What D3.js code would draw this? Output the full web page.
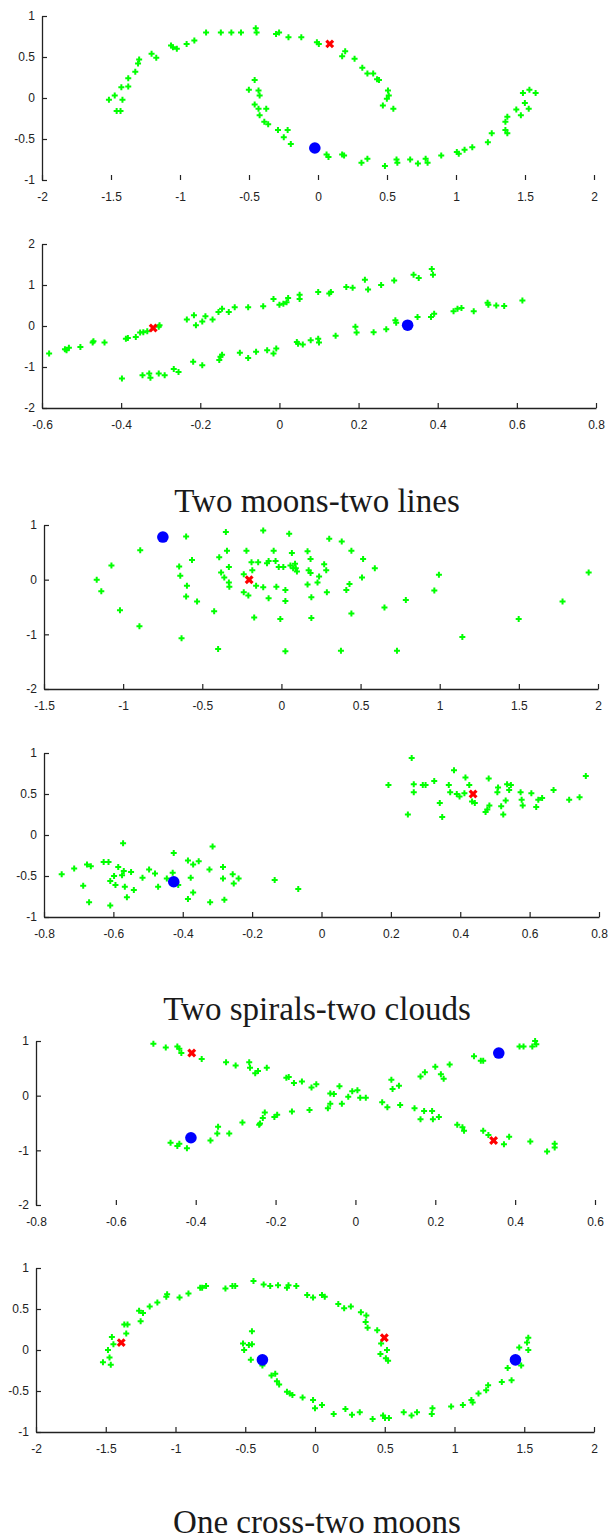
<!DOCTYPE html>
<html>
<head>
<meta charset="utf-8">
<script src="https://cdn.jsdelivr.net/npm/d3@7"></script>
<style>
  body { margin: 0; background: #fff; }
  svg { display: block; }
</style>
</head>
<body>
<div name="fig"></div>
<script>
// --- data

// Two moons
const moonsGreen = [
  [-1.515, -0.02], [-1.473, 0.03], [-1.459, -0.16], [-1.431, -0.16], [-1.417, -0.02], [-1.425, 0.13],
  [-1.375, 0.14], [-1.375, 0.24], [-1.324, 0.32], [-1.304, 0.42], [-1.296, 0.47], [-1.206, 0.54],
  [-1.172, 0.49], [-1.065, 0.64], [-1.051, 0.62], [-1.023, 0.60], [-0.952, 0.66], [-0.896, 0.70],
  [-0.811, 0.80], [-0.704, 0.80], [-0.628, 0.80], [-0.558, 0.80], [-0.451, 0.85], [-0.445, 0.80],
  [-0.304, 0.78], [-0.282, 0.80], [-0.214, 0.74], [-0.121, 0.74], [-0.008, 0.68], [0.006, 0.66],
  [0.197, 0.57], [0.175, 0.51], [0.265, 0.48], [0.321, 0.37], [0.358, 0.30], [0.400, 0.30],
  [0.428, 0.23], [0.442, 0.22], [0.507, 0.09], [0.513, 0.03], [0.499, -0.01], [0.470, -0.09],
  [0.546, -0.13],
  [-0.459, 0.22], [-0.501, 0.10], [-0.431, 0.09], [-0.423, 0.03], [-0.459, -0.08], [-0.431, -0.13],
  [-0.375, -0.13], [-0.423, -0.21], [-0.389, -0.29], [-0.361, -0.32], [-0.290, -0.39], [-0.220, -0.39],
  [-0.248, -0.48], [-0.197, -0.56], [0.062, -0.69], [0.076, -0.72], [0.175, -0.69], [0.189, -0.70],
  [0.315, -0.79], [0.358, -0.74], [0.485, -0.83], [0.569, -0.75], [0.575, -0.79], [0.668, -0.75],
  [0.724, -0.80], [0.780, -0.74], [0.794, -0.79], [0.893, -0.70], [1.006, -0.66], [1.020, -0.68],
  [1.062, -0.63], [1.118, -0.60], [1.231, -0.54], [1.259, -0.43], [1.358, -0.39], [1.372, -0.43],
  [1.358, -0.29], [1.372, -0.23], [1.437, -0.14], [1.470, -0.21], [1.499, -0.06], [1.527, -0.13],
  [1.485, 0.06], [1.532, 0.10], [1.577, 0.06],
];
const moonsRed = [[0.085, 0.66]];
const moonsBlue = [[-0.023, -0.61]];

// Two lines
const linesGreen = [
  [-0.582, -0.67], [-0.542, -0.57], [-0.532, -0.53], [-0.538, -0.59], [-0.503, -0.51], [-0.472, -0.40],
  [-0.470, -0.37], [-0.442, -0.40], [-0.388, -0.31], [-0.383, -0.29], [-0.363, -0.27], [-0.352, -0.16],
  [-0.344, -0.15], [-0.334, -0.13], [-0.305, -0.02], [-0.303, 0.02], [-0.234, 0.16], [-0.216, 0.26],
  [-0.211, 0.02], [-0.187, 0.24], [-0.195, 0.11], [-0.169, 0.16], [-0.154, 0.34], [-0.145, 0.42],
  [-0.128, 0.34], [-0.113, 0.46], [-0.079, 0.46], [-0.041, 0.48], [-0.015, 0.66], [0.000, 0.52],
  [0.010, 0.54], [0.018, 0.58], [0.022, 0.68], [0.051, 0.76], [0.051, 0.66], [0.098, 0.83],
  [0.126, 0.79], [0.130, 0.83], [0.169, 0.95], [0.185, 0.93], [0.216, 1.13], [0.224, 0.89],
  [0.257, 1.00], [0.290, 1.11], [0.339, 1.25], [0.352, 1.17], [0.385, 1.39], [0.388, 1.25],
  [-0.398, -1.28], [-0.346, -1.20], [-0.329, -1.16], [-0.326, -1.26], [-0.305, -1.16], [-0.290, -1.20],
  [-0.267, -1.05], [-0.255, -1.12], [-0.218, -0.87], [-0.195, -0.96], [-0.149, -0.75], [-0.145, -0.70],
  [-0.152, -0.83], [-0.100, -0.65], [-0.079, -0.78], [-0.059, -0.63], [-0.031, -0.59], [-0.015, -0.67],
  [-0.008, -0.55], [0.044, -0.39], [0.047, -0.43], [0.059, -0.45], [0.079, -0.35], [0.098, -0.31],
  [0.100, -0.40], [0.142, -0.24], [0.192, -0.02], [0.195, -0.16], [0.238, -0.15], [0.270, -0.08],
  [0.293, 0.14], [0.295, 0.08], [0.349, 0.22], [0.383, 0.22], [0.391, 0.30], [0.440, 0.36],
  [0.450, 0.42], [0.460, 0.44], [0.491, 0.36], [0.526, 0.57], [0.528, 0.52], [0.548, 0.50],
  [0.568, 0.49], [0.614, 0.62],
];
const linesRed = [[-0.319, -0.05]];
const linesBlue = [[0.324, 0.02]];

// Two spirals
const spiralsGreen = [
  [-1.167, 0.00], [-1.138, -0.21], [-1.074, 0.26], [-1.020, -0.56], [-0.892, 0.54], [-0.897, -0.85],
  [-0.631, -1.07], [-0.602, 0.79], [-0.646, 0.24], [-0.639, 0.07], [-0.597, -0.11], [-0.602, -0.31],
  [-0.565, 0.36], [-0.533, -0.40], [-0.425, -0.58], [-0.400, -1.27], [-0.351, 0.87], [-0.344, 0.53],
  [-0.393, 0.41], [-0.381, 0.13], [-0.332, 0.23], [-0.332, -0.05], [-0.329, -0.13], [-0.361, 0.04],
  [-0.238, -0.23], [-0.238, 0.10], [-0.221, 0.53], [-0.189, 0.32], [-0.184, 0.17], [-0.209, -0.29],
  [-0.160, -0.11], [-0.147, 0.32], [-0.172, -0.69], [-0.115, 0.90], [-0.115, -0.14], [-0.091, 0.30],
  [-0.081, 0.34], [-0.081, -0.34], [-0.049, 0.53], [-0.037, 0.34], [-0.032, -0.13], [-0.017, 0.23],
  [-0.007, -0.72], [0.012, 0.23], [0.025, -0.19], [0.025, -0.39], [0.025, -1.31], [0.049, 0.84],
  [0.066, 0.49], [0.057, 0.26], [0.074, 0.21], [0.091, 0.21], [0.098, 0.15], [0.086, 0.29],
  [0.165, 0.52], [0.184, 0.38], [0.172, 0.17], [0.184, 0.12], [0.165, -0.09], [0.189, -0.32],
  [0.189, -0.70], [0.228, -0.05], [0.238, 0.06], [0.270, 0.28], [0.283, 0.17], [0.287, -0.23],
  [0.302, 0.75], [0.381, 0.70], [0.376, -1.30], [0.410, -0.19], [0.430, -0.08], [0.442, 0.53],
  [0.442, -0.62], [0.516, 0.38], [0.509, 0.04], [0.590, 0.21], [0.651, -0.51], [0.730, -1.30],
  [0.786, -0.37], [0.966, -0.20], [0.995, 0.09], [1.143, -1.05], [1.499, -0.72], [1.776, -0.40],
  [1.941, 0.13],
];
const spiralsRed = [[-0.204, 0.00]];
const spiralsBlue = [[-0.749, 0.78]];

// Two clouds
const cloudsGreen = [
  [-0.749, -0.48], [-0.713, -0.41], [-0.687, -0.62], [-0.676, -0.36], [-0.665, -0.38], [-0.670, -0.82],
  [-0.628, -0.33], [-0.614, -0.33], [-0.609, -0.56], [-0.609, -0.86], [-0.598, -0.50], [-0.594, -0.61],
  [-0.586, -0.39], [-0.572, -0.10], [-0.575, -0.49], [-0.570, -0.44], [-0.567, -0.63], [-0.561, -0.76],
  [-0.549, -0.45], [-0.541, -0.67], [-0.516, -0.52], [-0.497, -0.42], [-0.480, -0.47], [-0.471, -0.63],
  [-0.446, -0.53], [-0.429, -0.46], [-0.426, -0.22], [-0.413, -0.61], [-0.385, -0.31], [-0.385, -0.78],
  [-0.377, -0.52], [-0.370, -0.36], [-0.370, -0.70], [-0.354, -0.32], [-0.323, -0.42], [-0.321, -0.82],
  [-0.314, -0.14], [-0.284, -0.39], [-0.284, -0.53], [-0.280, -0.79], [-0.256, -0.48], [-0.253, -0.59],
  [-0.239, -0.53], [-0.135, -0.55], [-0.067, -0.66],
  [0.193, 0.61], [0.249, 0.25], [0.260, 0.94], [0.266, 0.62], [0.266, 0.52], [0.292, 0.61],
  [0.300, 0.61], [0.325, 0.66], [0.341, 0.39], [0.348, 0.22], [0.367, 0.61], [0.371, 0.52],
  [0.382, 0.79], [0.390, 0.50], [0.398, 0.47], [0.412, 0.51], [0.415, 0.70], [0.426, 0.61],
  [0.434, 0.41], [0.442, 0.39], [0.473, 0.28], [0.482, 0.69], [0.484, 0.36], [0.478, 0.31],
  [0.509, 0.58], [0.507, 0.52], [0.518, 0.35], [0.524, 0.25], [0.531, 0.42], [0.535, 0.62],
  [0.541, 0.55], [0.546, 0.61], [0.574, 0.52], [0.580, 0.36], [0.577, 0.43], [0.605, 0.51],
  [0.619, 0.34], [0.625, 0.43], [0.636, 0.45], [0.669, 0.55], [0.714, 0.43], [0.744, 0.46],
  [0.762, 0.72],
];
const cloudsRed = [[0.437, 0.50]];
const cloudsBlue = [[-0.426, -0.57]];

// One cross
const crossGreen = [
  [-0.506, 0.95], [-0.475, 0.88], [-0.446, 0.90], [-0.441, 0.86], [-0.436, 0.78], [-0.385, 0.67],
  [-0.324, 0.61], [-0.300, 0.55], [-0.266, 0.61], [-0.264, 0.51], [-0.251, 0.41], [-0.244, 0.45],
  [-0.222, 0.51], [-0.173, 0.33], [-0.167, 0.34], [-0.154, 0.23], [-0.134, 0.26], [-0.110, 0.15],
  [-0.098, 0.21], [-0.063, 0.04], [-0.040, 0.17], [-0.008, 0.08], [0.005, 0.10], [0.012, -0.04],
  [0.026, -0.04], [0.067, -0.12], [0.080, -0.21], [0.112, -0.17], [0.148, -0.23], [0.163, -0.43],
  [0.172, -0.28], [0.192, -0.28], [0.194, -0.43], [0.209, -0.39], [0.255, -0.53], [0.268, -0.58],
  [0.272, -0.64], [0.320, -0.64], [0.333, -0.72], [0.372, -0.89], [0.385, -0.75], [0.438, -0.84],
  [0.480, -1.02], [0.499, -0.88], [0.499, -0.95],
  [-0.463, -0.86], [-0.446, -0.92], [-0.441, -0.88], [-0.422, -0.96], [-0.363, -0.82], [-0.346, -0.69],
  [-0.344, -0.57], [-0.316, -0.69], [-0.283, -0.49], [-0.241, -0.53], [-0.239, -0.51], [-0.232, -0.41],
  [-0.227, -0.31], [-0.203, -0.39], [-0.196, -0.35], [-0.159, -0.29], [-0.115, -0.26], [-0.069, -0.23],
  [-0.063, -0.15], [-0.054, 0.03], [-0.034, -0.15], [-0.018, -0.02], [0.090, 0.29], [0.093, 0.12],
  [0.109, 0.18], [0.163, 0.35], [0.174, 0.43], [0.200, 0.53], [0.214, 0.39], [0.221, 0.31],
  [0.236, 0.57], [0.297, 0.72], [0.314, 0.64], [0.320, 0.64], [0.411, 0.90], [0.421, 0.90],
  [0.443, 0.90], [0.450, 1.00], [0.453, 0.94],
];
const crossRed = [[-0.410, 0.78], [0.346, -0.82]];
const crossBlue = [[-0.412, -0.77], [0.359, 0.78]];

// Two moons, second run
const moons2Green = [
  [-1.520, -0.15], [-1.473, -0.09], [-1.464, -0.18], [-1.484, 0.00], [-1.456, 0.16], [-1.445, 0.07],
  [-1.367, 0.31], [-1.344, 0.31], [-1.353, 0.20], [-1.250, 0.35], [-1.261, 0.48], [-1.233, 0.45],
  [-1.185, 0.53], [-1.130, 0.58], [-1.066, 0.65], [-1.060, 0.68], [-0.971, 0.64], [-0.907, 0.69],
  [-0.823, 0.76], [-0.809, 0.76], [-0.781, 0.78], [-0.642, 0.75], [-0.592, 0.78], [-0.572, 0.78],
  [-0.441, 0.84], [-0.368, 0.80], [-0.321, 0.78], [-0.265, 0.79], [-0.201, 0.76], [-0.190, 0.79],
  [-0.134, 0.78], [-0.056, 0.67], [-0.014, 0.64], [0.050, 0.67], [0.070, 0.65], [0.167, 0.56],
  [0.209, 0.51], [0.257, 0.53], [0.329, 0.46], [0.368, 0.42], [0.363, 0.34], [0.377, 0.27],
  [0.446, 0.24], [0.474, 0.08], [0.516, 0.00], [0.469, -0.05], [0.508, -0.10], [0.524, -0.13],
  [-0.452, 0.23], [-0.516, 0.08], [-0.474, 0.06], [-0.452, 0.07], [-0.508, 0.00], [-0.460, -0.12],
  [-0.377, -0.19], [-0.312, -0.31], [-0.285, -0.29], [-0.273, -0.38], [-0.257, -0.42], [-0.201, -0.51],
  [-0.181, -0.53], [-0.162, -0.55], [-0.089, -0.58], [-0.014, -0.61], [0.000, -0.71], [0.050, -0.67],
  [0.134, -0.78], [0.218, -0.72], [0.265, -0.79], [0.321, -0.76], [0.413, -0.84], [0.488, -0.80],
  [0.502, -0.83], [0.530, -0.83], [0.636, -0.76], [0.692, -0.80], [0.731, -0.76], [0.842, -0.71],
  [0.837, -0.78], [0.976, -0.69], [1.060, -0.67], [1.121, -0.61], [1.130, -0.64], [1.172, -0.53],
  [1.227, -0.49], [1.241, -0.43], [1.339, -0.39], [1.409, -0.37], [1.381, -0.22], [1.478, -0.19],
  [1.464, 0.03], [1.529, 0.00], [1.520, 0.09], [1.529, 0.15],
];
const moons2Red = [[-1.389, 0.09], [0.497, 0.15]];
const moons2Blue = [[-0.377, -0.12], [1.437, -0.12]];

// axis ticks
const ticksMoonsX = [-2, -1.5, -1, -0.5, 0, 0.5, 1, 1.5, 2];
const ticksMoonsY = [-1, -0.5, 0, 0.5, 1];
const ticksLinesX = [-0.6, -0.4, -0.2, 0, 0.2, 0.4, 0.6, 0.8];
const ticksLinesY = [-2, -1, 0, 1, 2];
const ticksSpiralsX = [-1.5, -1, -0.5, 0, 0.5, 1, 1.5, 2];
const ticksSpiralsY = [-2, -1, 0, 1];
const ticksCloudsX = [-0.8, -0.6, -0.4, -0.2, 0, 0.2, 0.4, 0.6, 0.8];
const ticksCloudsY = [-1, -0.5, 0, 0.5, 1];
const ticksCrossX = [-0.8, -0.6, -0.4, -0.2, 0, 0.2, 0.4, 0.6];
const ticksCrossY = [-2, -1, 0, 1];

const captions = ['Two moons-two lines', 'Two spirals-two clouds', 'One cross-two moons'];

// ---

const svgWidth = 614, svgHeight = 1539;
const svg = d3.select('div[name=fig]').append('svg')
  .attr('width', svgWidth)
  .attr('height', svgHeight);

const panels = [
  { green: moonsGreen, red: moonsRed, blue: moonsBlue, tx: ticksMoonsX, ty: ticksMoonsY, box: [42, 594, 16, 180], xLine: false },
  { green: linesGreen, red: linesRed, blue: linesBlue, tx: ticksLinesX, ty: ticksLinesY, box: [42, 596, 244, 408], xLine: true },
  { green: spiralsGreen, red: spiralsRed, blue: spiralsBlue, tx: ticksSpiralsX, ty: ticksSpiralsY, box: [44, 598, 525, 689], xLine: true },
  { green: cloudsGreen, red: cloudsRed, blue: cloudsBlue, tx: ticksCloudsX, ty: ticksCloudsY, box: [44, 599, 753, 917], xLine: true },
  { green: crossGreen, red: crossRed, blue: crossBlue, tx: ticksCrossX, ty: ticksCrossY, box: [36, 595, 1041, 1205], xLine: false },
  { green: moons2Green, red: moons2Red, blue: moons2Blue, tx: ticksMoonsX, ty: ticksMoonsY, box: [36, 594, 1268, 1432], xLine: true },
];

const plus = d3.symbol().type(d3.symbolCross).size(20);
const cross = d3.symbol().type(d3.symbolCross).size(50);

panels.forEach(p => {
  const [left, right, top, bottom] = p.box;
  const x = d3.scaleLinear().domain(d3.extent(p.tx)).range([left, right]);
  const y = d3.scaleLinear().domain(d3.extent(p.ty)).range([bottom, top]);
  const g = svg.append('g');

  const xAxis = g.append('g')
    .attr('transform', `translate(0, ${bottom})`)
    .call(d3.axisBottom(x).tickValues(p.tx).tickFormat(d => String(d))
      .tickSizeInner(-5).tickSizeOuter(0).tickPadding(12));
  if (!p.xLine) xAxis.select('.domain').remove();

  g.append('g')
    .attr('transform', `translate(${left}, 0)`)
    .call(d3.axisLeft(y).tickValues(p.ty).tickFormat(d => String(d))
      .tickSizeInner(-5).tickSizeOuter(0).tickPadding(7));

  g.selectAll('.domain').attr('stroke', '#222').attr('stroke-width', 1.3);
  g.selectAll('.tick line').attr('stroke', '#222').attr('stroke-width', 1.2);
  g.selectAll('.tick text')
    .attr('fill', '#222')
    .style('font-family', 'Liberation Sans, Arial, sans-serif')
    .style('font-size', '12px');

  g.selectAll('path.green')
    .data(p.green)
    .enter()
    .append('path')
    .attr('class', 'green')
    .attr('d', plus)
    .attr('fill', '#00ff00')
    .attr('transform', d => `translate(${x(d[0])}, ${y(d[1])})`);

  g.selectAll('path.red')
    .data(p.red)
    .enter()
    .append('path')
    .attr('class', 'red')
    .attr('d', cross)
    .attr('fill', '#ff0000')
    .attr('transform', d => `translate(${x(d[0])}, ${y(d[1])}) rotate(45)`);

  g.selectAll('circle.blue')
    .data(p.blue)
    .enter()
    .append('circle')
    .attr('class', 'blue')
    .attr('cx', d => x(d[0]))
    .attr('cy', d => y(d[1]))
    .attr('r', 5.8)
    .attr('fill', '#0000ff');
});

// captions under each pair of panels
const captionY = [512, 1020, 1533];
svg.selectAll('text.caption')
  .data(captions)
  .enter()
  .append('text')
  .attr('class', 'caption')
  .attr('x', 317)
  .attr('y', (d, i) => captionY[i])
  .attr('text-anchor', 'middle')
  .style('font-family', 'Liberation Serif, Times New Roman, serif')
  .style('font-size', '33px')
  .attr('fill', '#1a1a1a')
  .text(d => d);
</script>
</body>
</html>
